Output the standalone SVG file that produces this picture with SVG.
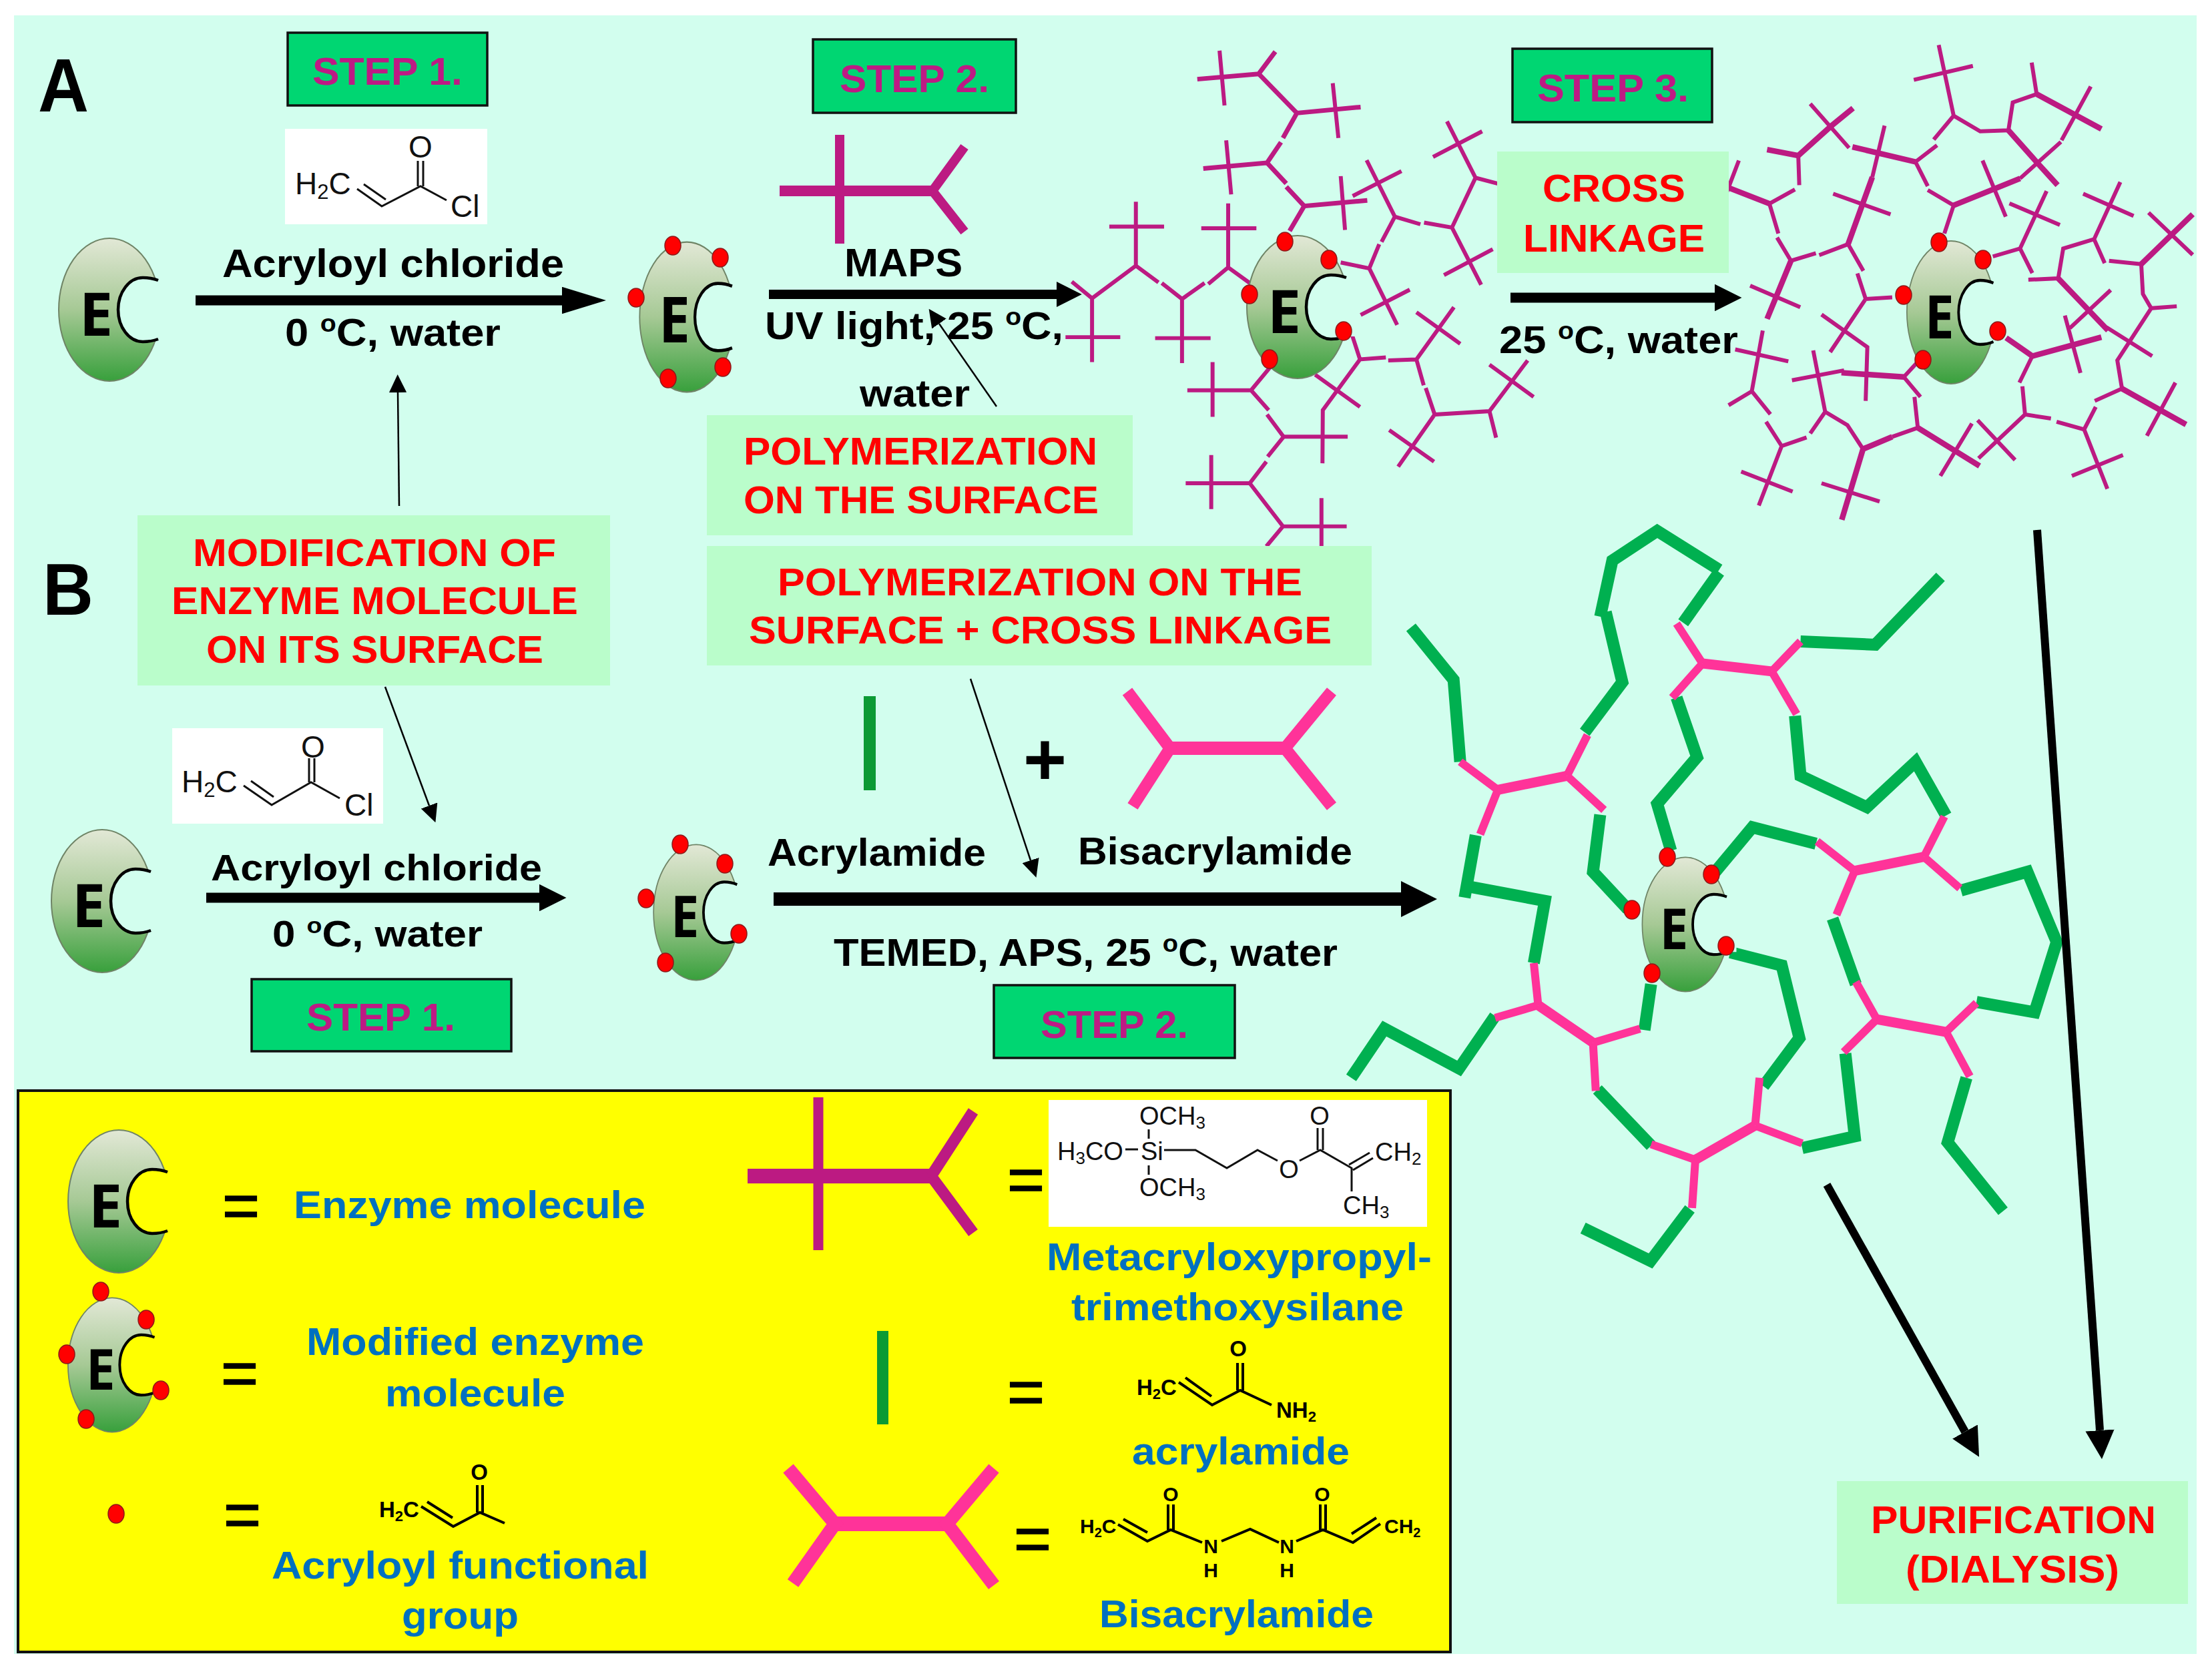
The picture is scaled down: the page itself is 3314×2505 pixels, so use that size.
<svg xmlns="http://www.w3.org/2000/svg" xmlns:xlink="http://www.w3.org/1999/xlink" width="3314" height="2505" viewBox="0 0 3314 2505">
<style>
text{font-family:"Liberation Sans",Arial,sans-serif}
.k{font-weight:bold;fill:#000}
.r{font-weight:bold;fill:#f00;font-size:58px}
.s{font-weight:bold;fill:#BE1A84;font-size:58px}
.u{font-weight:bold;fill:#0070C0;font-size:58px}
.eq{fill:#000;stroke:#000;stroke-width:1.5;font-size:96px;text-anchor:middle}
.E{font-family:"Open Sans","Liberation Sans",sans-serif;font-weight:bold;font-size:90px;text-anchor:middle;fill:#000}
.step{fill:#00D672;stroke:#111;stroke-width:3.5}
.lab{fill:#BAFDCB}
.dot{fill:#f00;stroke:#8a1a1a;stroke-width:1.5}
.mag{fill:none;stroke:#BC1A82}
.grn{fill:none;stroke:#00B050;stroke-width:18;stroke-linejoin:miter;vector-effect:non-scaling-stroke}
.pnk{fill:none;stroke:#FF3399;stroke-width:12;vector-effect:non-scaling-stroke}
.pnk.t{stroke-width:15}
.b{fill:none;stroke:#111;stroke-width:3}
.bb{fill:none;stroke:#000;stroke-width:4}
.c{fill:#111;font-size:38px}
.cb{fill:#000;font-weight:bold;font-size:33px}
.ar{fill:none;stroke:#000}
.bite{fill:currentColor}
.arc{fill:none;stroke:#000;stroke-width:4.5}
.onbg{color:#D2FEEE}
.onye{color:#FFFF00}
</style>
<defs>
<linearGradient id="enzGrad" x1="0" y1="0" x2="0" y2="1">
<stop offset="0" stop-color="#E2E8D6"/><stop offset="0.5" stop-color="#A6C995"/><stop offset="1" stop-color="#38A03C"/>
</linearGradient>
<g id="enzBody">
<ellipse cx="0" cy="0" rx="76" ry="107" fill="url(#enzGrad)" stroke="#6F8466" stroke-width="2"/>
<path class="bite" d="M73,-44C65,-47 58,-48 50,-48A37,48 0 0 0 50,48C58,48 65,47 73,44L90,44L90,-44Z"/>
<path class="arc" d="M73,-44C65,-47 58,-48 50,-48A37,48 0 0 0 50,48C58,48 65,47 73,44"/>
</g>
<marker id="headThin" viewBox="0 0 10 10" refX="0" refY="5" markerWidth="10.8" markerHeight="10.5" orient="auto" markerUnits="strokeWidth" preserveAspectRatio="none"><path d="M0,0L10,5L0,10Z" fill="#000"/></marker>
<marker id="headMid" viewBox="0 0 10 10" refX="0" refY="5" markerWidth="2.7" markerHeight="2.7" orient="auto" markerUnits="strokeWidth" preserveAspectRatio="none"><path d="M0,0L10,5L0,10Z" fill="#000"/></marker>
<marker id="headLong" viewBox="0 0 10 10" refX="0" refY="5" markerWidth="4.4" markerHeight="2.7" orient="auto" markerUnits="strokeWidth" preserveAspectRatio="none"><path d="M0,0L10,5L0,10Z" fill="#000"/></marker>
<marker id="headBig" viewBox="0 0 10 10" refX="0" refY="5" markerWidth="3.6" markerHeight="3.6" orient="auto" markerUnits="strokeWidth" preserveAspectRatio="none"><path d="M0,0L10,5L0,10Z" fill="#000"/></marker>
</defs>

<rect width="3314" height="2505" fill="#fff"/>
<rect id="panel" x="21" y="23" width="3270" height="2455" fill="#D2FEEE"/>

<text id="label-A" class="k" x="57" y="167" font-size="114" textLength="76" lengthAdjust="spacingAndGlyphs">A</text>
<text id="label-B" class="k" x="64" y="921" font-size="110" textLength="76" lengthAdjust="spacingAndGlyphs">B</text>

<g id="magenta-polymer-a" class="mag" transform="translate(1560,50) scale(.4974)" style="stroke-width:12">
<path d="M470,138L655,122M655,122L705,55M655,122L770,240M770,240L962,222M770,240L728,315M722,328L680,390L488,407M680,390L738,452M738,462L792,520L982,503M792,520L748,595" style="stroke-width:14"/>
<path d="M537,52L552,217M878,150L895,315M557,322L572,485M902,430L915,592"/>
<path d="M92,748L153,798L285,700M153,798L153,990M73,915L238,915M285,700L285,507M205,582L370,582M285,700L353,750M363,752L424,800L492,752M503,755L563,705M424,800L424,993M343,918L510,918M563,705L563,512M482,587L648,587M563,705L632,755"/>
<path d="M902,690L988,708L1018,635M1025,628L1065,552M988,708L1072,878M962,848L1110,772M1065,552L980,382M938,490L1085,415M1065,552L1142,575M1153,570L1237,585L1308,435L1385,455M1308,435L1222,265M1180,372L1328,295M1237,585L1325,757M1213,728L1360,650"/>
<path d="M935,905L960,982L1038,976M1045,985L1130,982M960,982L848,1135L847,1295M825,1028L960,1125M730,1215L923,1215M1130,982L1243,825M1130,840L1262,935M1130,982L1152,1060M1158,1068L1185,1148L1350,1138L1465,985M1350,998L1483,1095M1350,1138L1370,1218M1185,1148L1075,1305M1048,1195L1183,1290"/>
<path d="M690,1005L632,1075L440,1075M516,990L516,1155M632,1075L685,1135M680,1148L730,1215L682,1275M678,1290L628,1355L435,1355M512,1270L512,1433M628,1355L728,1485L920,1485M844,1400L844,1565M728,1485L678,1545"/>
</g>

<g id="magenta-polymer-b" class="mag" transform="translate(2534,50) scale(.4974)" style="stroke-width:12">
<path style="stroke-width:17" d="M30,433L235,513M472,635L545,433M300,685L228,860M452,1022L640,1035M605,1215L517,1252M517,1252L453,1465M682,1188L868,1303M228,350L322,368M322,368L420,280L487,225M485,342L675,387M790,518L990,437M1042,390L955,292M1042,390L1103,457M1040,183L1235,288M1355,695L1510,545M1297,1070L1490,1178M1105,738L1255,895M948,917L1027,972L1235,915"/>
<path d="M143,383L78,553M235,513L312,470M235,513L262,603M258,615L300,685L375,662M385,668L472,635M177,760L328,825M427,483L600,545M472,635L518,715M500,723L525,800L605,795M525,800L418,960M392,847L530,945L525,1107M303,1045L460,1015M640,1035L695,975M640,1035L690,1095M672,1095L682,1188L605,1215M517,1252L470,1180L403,1140L358,1205M403,1140L367,955M392,1355L567,1410M845,1175L750,1333"/>
<path d="M215,895L182,1078L112,1120M132,952L292,988M182,1078L238,1147M225,1170L272,1243L347,1217M272,1243L203,1422M150,1320L305,1380"/>
<path d="M322,368L325,457M358,212L475,345M582,278L545,433M675,387L740,337M675,387L712,460M712,472L790,518L762,603M877,383L947,552M990,437L1113,327M955,292L870,295L790,248L730,320M790,248L745,35M670,140L848,98M955,292L968,208L1040,183L1025,88M1203,160L1115,322"/>
<path d="M908,672L990,648L1070,475M958,512L1110,577M990,648L1027,722M1015,742L1105,738L1120,648L1213,620L1292,448M1180,483L1332,550M1213,620L1245,692M1258,685L1355,695L1360,785L1385,828L1462,822M1377,540L1510,667M1385,828L1283,985L1297,1070L1215,1107M1250,885L1388,972M1458,1052L1372,1212M1263,773L1140,888M1125,850L1172,1023M1027,972L988,1052M997,1063L1005,1148L1083,1160M1100,1170L1183,1193L1218,1125M1183,1193L1253,1372M1146,1333L1300,1270M1005,1148L865,1280M862,1165L975,1285"/>
</g>

<g id="green-polymer" transform="translate(1900,780) scale(.829,.7015)">
<path class="grn" d="M258,228L335,340L347,515M572,452L640,345L610,195M600,205L622,85L703,22L815,105M815,110L750,218M962,258L1097,265L1215,120M738,378L775,505L703,605L728,705M952,417L962,545L1082,612L1170,515L1225,630M808,750L875,655L990,690M1252,790L1372,750L1425,900L1385,1050L1280,1028M1020,850L1062,990M1262,1190L1228,1328L1328,1475M1043,1138L1060,1315L965,1340M895,1208L960,1105L928,950L835,922M692,1335L595,1215M680,1088L692,990M410,1058L345,1170L210,1085L150,1190M480,945L500,812L355,780M355,805L375,672M600,628L587,750L650,830M762,1470L691,1581L569,1511"/>
<path class="pnk" d="M347,515L415,575M540,545L577,458M540,545L607,618M415,575L383,670M738,220L785,305M785,305L730,378M910,322L962,258M910,322L955,413M1222,632L1185,718M1185,718L1250,785M1060,748L992,685M1060,748L1027,842M1280,1030L1225,1092M1100,1065L1062,985M1100,1065L1040,1135M1225,1092L1268,1187M965,1330L880,1292M772,1365L692,1332M772,1365L766,1468M880,1292L888,1190M592,1218L587,1115M587,1115L672,1085M488,1035L480,945M488,1035L410,1062"/>
<path class="pnk t" d="M415,575L540,545M785,305L910,322M1185,718L1060,748M1225,1092L1100,1065M880,1292L772,1365M587,1115L488,1035"/>
</g>

<g id="connectors">
<line class="ar" x1="293" y1="450" x2="842" y2="450" stroke-width="15" marker-end="url(#headLong)"/>
<line class="ar" x1="1152" y1="441" x2="1583" y2="441" stroke-width="14" marker-end="url(#headMid)"/>
<line class="ar" x1="2263" y1="446" x2="2569" y2="446" stroke-width="15" marker-end="url(#headMid)"/>
<line class="ar" x1="309" y1="1345" x2="808" y2="1345" stroke-width="15" marker-end="url(#headMid)"/>
<line class="ar" x1="1159" y1="1347" x2="2099" y2="1347" stroke-width="20" marker-end="url(#headMid)"/>
<line class="ar" x1="598" y1="758" x2="596" y2="588" stroke-width="2.5" marker-end="url(#headThin)"/>
<line class="ar" x1="1493" y1="609" x2="1407" y2="485" stroke-width="2.5" marker-end="url(#headThin)"/>
<line class="ar" x1="1454" y1="1017" x2="1544" y2="1289" stroke-width="2.5" marker-end="url(#headThin)"/>
<line class="ar" x1="577" y1="1029" x2="643" y2="1207" stroke-width="2.5" marker-end="url(#headThin)"/>
<line class="ar" x1="3052" y1="794" x2="3146" y2="2143" stroke-width="12" marker-end="url(#headBig)"/>
<line class="ar" x1="2737" y1="1775" x2="2944" y2="2145" stroke-width="12" marker-end="url(#headBig)"/>
</g>

<g id="step-a1"><rect class="step" x="431" y="49" width="299" height="109"/><text class="s" x="468" y="127" textLength="225" lengthAdjust="spacingAndGlyphs">STEP 1.</text></g>
<g id="step-a2"><rect class="step" x="1218" y="59" width="304" height="110"/><text class="s" x="1258" y="138" textLength="224" lengthAdjust="spacingAndGlyphs">STEP 2.</text></g>
<g id="step-a3"><rect class="step" x="2266" y="73" width="299" height="110"/><text class="s" x="2303" y="152" textLength="227" lengthAdjust="spacingAndGlyphs">STEP 3.</text></g>
<g id="step-b1"><rect class="step" x="377" y="1467" width="389" height="108"/><text class="s" x="459" y="1544" textLength="223" lengthAdjust="spacingAndGlyphs">STEP 1.</text></g>
<g id="step-b2"><rect class="step" x="1489" y="1476" width="361" height="109"/><text class="s" x="1559" y="1555" textLength="221" lengthAdjust="spacingAndGlyphs">STEP 2.</text></g>

<g id="label-modification"><rect class="lab" x="206" y="772" width="708" height="255"/>
<text class="r" x="289" y="848" textLength="544" lengthAdjust="spacingAndGlyphs">MODIFICATION OF</text>
<text class="r" x="257" y="920" textLength="609" lengthAdjust="spacingAndGlyphs">ENZYME MOLECULE</text>
<text class="r" x="309" y="993" textLength="505" lengthAdjust="spacingAndGlyphs">ON ITS SURFACE</text></g>
<g id="label-polymerization"><rect class="lab" x="1059" y="622" width="638" height="180"/>
<text class="r" x="1114" y="696" textLength="530" lengthAdjust="spacingAndGlyphs">POLYMERIZATION</text>
<text class="r" x="1114" y="769" textLength="532" lengthAdjust="spacingAndGlyphs">ON THE SURFACE</text></g>
<g id="label-polymerization-cross"><rect class="lab" x="1059" y="818" width="996" height="179"/>
<text class="r" x="1165" y="892" textLength="786" lengthAdjust="spacingAndGlyphs">POLYMERIZATION ON THE</text>
<text class="r" x="1122" y="964" textLength="873" lengthAdjust="spacingAndGlyphs">SURFACE + CROSS LINKAGE</text></g>
<g id="label-cross"><rect class="lab" x="2243" y="227" width="347" height="182"/>
<text class="r" x="2311" y="302" textLength="214" lengthAdjust="spacingAndGlyphs">CROSS</text>
<text class="r" x="2282" y="377" textLength="272" lengthAdjust="spacingAndGlyphs">LINKAGE</text></g>
<g id="label-purification"><rect class="lab" x="2752" y="2219" width="526" height="184"/>
<text class="r" x="2803" y="2297" textLength="427" lengthAdjust="spacingAndGlyphs">PURIFICATION</text>
<text class="r" x="2855" y="2371" textLength="320" lengthAdjust="spacingAndGlyphs">(DIALYSIS)</text></g>

<g id="reaction-labels">
<text class="k" font-size="60" x="333" y="415" textLength="512" lengthAdjust="spacingAndGlyphs">Acryloyl chloride</text>
<text class="k" font-size="58" x="427" y="518" textLength="323" lengthAdjust="spacingAndGlyphs">0 <tspan font-size="36" dy="-21">o</tspan><tspan dy="21">C, water</tspan></text>
<text class="k" font-size="60" x="1265" y="414" textLength="177" lengthAdjust="spacingAndGlyphs">MAPS</text>
<text class="k" font-size="58" x="1146" y="508" textLength="447" lengthAdjust="spacingAndGlyphs">UV light, 25 <tspan font-size="36" dy="-21">o</tspan><tspan dy="21">C,</tspan></text>
<text class="k" font-size="58" x="1288" y="609" textLength="165" lengthAdjust="spacingAndGlyphs">water</text>
<text class="k" font-size="58" x="2246" y="529" textLength="358" lengthAdjust="spacingAndGlyphs">25 <tspan font-size="36" dy="-21">o</tspan><tspan dy="21">C, water</tspan></text>
<text class="k" font-size="56" x="316" y="1319" textLength="496" lengthAdjust="spacingAndGlyphs">Acryloyl chloride</text>
<text class="k" font-size="56" x="408" y="1418" textLength="315" lengthAdjust="spacingAndGlyphs">0 <tspan font-size="34" dy="-20">o</tspan><tspan dy="20">C, water</tspan></text>
<text class="k" font-size="58" x="1150" y="1297" textLength="327" lengthAdjust="spacingAndGlyphs">Acrylamide</text>
<text class="k" font-size="58" x="1615" y="1295" textLength="411" lengthAdjust="spacingAndGlyphs">Bisacrylamide</text>
<text class="k" font-size="58" x="1249" y="1447" textLength="755" lengthAdjust="spacingAndGlyphs">TEMED, APS, 25 <tspan font-size="36" dy="-21">o</tspan><tspan dy="21">C, water</tspan></text>
<text class="k" font-size="112" x="1533" y="1176" textLength="65" lengthAdjust="spacingAndGlyphs">+</text>
</g>

<g id="chem-acryloyl-chloride-a"><rect x="427" y="193" width="303" height="143" fill="#fff"/>
<path class="b" d="M535,283L572,309L630,279L669,300M545,276L578,299M626,279V241M634,279V241"/>
<text class="c" style="font-size:46px" x="442" y="291">H<tspan font-size="31" dy="7">2</tspan><tspan dy="-7">C</tspan></text>
<text class="c" style="font-size:46px" x="630" y="236" text-anchor="middle">O</text>
<text class="c" style="font-size:46px" x="675" y="325">Cl</text></g>
<g id="chem-acryloyl-chloride-b"><rect x="258" y="1091" width="316" height="143" fill="#fff"/>
<path class="b" d="M365,1177L407,1206L466,1172L509,1196M376,1170L410,1194M463,1172V1136M471,1172V1136"/>
<text class="c" style="font-size:46px" x="272" y="1187">H<tspan font-size="31" dy="7">2</tspan><tspan dy="-7">C</tspan></text>
<text class="c" style="font-size:46px" x="469" y="1135" text-anchor="middle">O</text>
<text class="c" style="font-size:46px" x="516" y="1222">Cl</text></g>

<g id="monomer-maps" fill="none" stroke="#BC1A82"><path stroke-width="16" d="M1168,286H1397"/><path stroke-width="14" d="M1258,202V365M1397,286L1445,220M1397,286L1445,347"/></g>
<rect id="monomer-acrylamide" x="1294" y="1043" width="18" height="141" fill="#0B9A34"/>
<g id="monomer-bisacrylamide" fill="none" stroke="#FF3399"><path stroke-width="20" d="M1753,1121H1925"/><path stroke-width="18" d="M1689,1036L1753,1121L1697,1208M1995,1036L1925,1121L1995,1208"/></g>

<g id="legend">
<rect x="27" y="1634" width="2146" height="841" fill="#FFFF00" stroke="#111" stroke-width="4"/>
<g id="legend-maps-shape" fill="none" stroke="#BC1A82"><path stroke-width="22" d="M1120,1762H1395"/><path stroke-width="15" d="M1226,1644V1873"/><path stroke-width="17" d="M1395,1762L1458,1665M1395,1762L1458,1847"/></g>
<rect id="legend-acrylamide-shape" x="1314" y="1994" width="17" height="140" fill="#0B9A34"/>
<g id="legend-bisacrylamide-shape" fill="none" stroke="#FF3399"><path stroke-width="22" d="M1251,2283H1419"/><path stroke-width="20" d="M1181,2200L1251,2283L1188,2372M1489,2200L1419,2283L1489,2375"/></g>
<text class="eq" x="361" y="1839">=</text>
<text class="eq" x="359" y="2090">=</text>
<text class="eq" x="363" y="2302">=</text>
<text class="eq" x="1537" y="1800">=</text>
<text class="eq" x="1537" y="2118">=</text>
<text class="eq" x="1547" y="2338">=</text>
<text class="u" x="440" y="1825" textLength="527" lengthAdjust="spacingAndGlyphs">Enzyme molecule</text>
<text class="u" x="459" y="2030" textLength="506" lengthAdjust="spacingAndGlyphs">Modified enzyme</text>
<text class="u" x="577" y="2107" textLength="270" lengthAdjust="spacingAndGlyphs">molecule</text>
<text class="u" x="407" y="2365" textLength="565" lengthAdjust="spacingAndGlyphs">Acryloyl functional</text>
<text class="u" x="602" y="2440" textLength="175" lengthAdjust="spacingAndGlyphs">group</text>
<text class="u" x="1568" y="1903" textLength="577" lengthAdjust="spacingAndGlyphs">Metacryloxypropyl-</text>
<text class="u" x="1605" y="1978" textLength="498" lengthAdjust="spacingAndGlyphs">trimethoxysilane</text>
<text class="u" x="1696" y="2194" textLength="326" lengthAdjust="spacingAndGlyphs">acrylamide</text>
<text class="u" x="1647" y="2438" textLength="411" lengthAdjust="spacingAndGlyphs">Bisacrylamide</text>

<g id="chem-acryloyl"><path class="bb" d="M631,2257L679,2287L719,2266L756,2282M640,2250L678,2274M715,2266V2225M723,2266V2225"/>
<text class="cb" x="568" y="2273">H<tspan font-size="22" dy="6">2</tspan><tspan dy="-6">C</tspan></text>
<text class="cb" x="718" y="2217" text-anchor="middle">O</text></g>

<g id="chem-maps"><rect x="1571" y="1648" width="567" height="190" fill="#fff"/>
<path class="b" d="M1686,1722H1705M1721,1692V1706M1721,1746V1760M1744,1723H1791L1838,1750L1884,1723L1914,1739M1947,1739L1978,1723L2025,1750V1785M1974,1723V1690M1982,1723V1690M2021,1745L2052,1727M2027,1753L2057,1735"/>
<text class="c" x="1707" y="1685">OCH<tspan font-size="26" dy="6">3</tspan></text>
<text class="c" x="1584" y="1738">H<tspan font-size="26" dy="6">3</tspan><tspan dy="-6">CO</tspan></text>
<text class="c" x="1709" y="1738">Si</text>
<text class="c" x="1707" y="1792">OCH<tspan font-size="26" dy="6">3</tspan></text>
<text class="c" x="1931" y="1765" text-anchor="middle">O</text>
<text class="c" x="1977" y="1685" text-anchor="middle">O</text>
<text class="c" x="2060" y="1739">CH<tspan font-size="26" dy="6">2</tspan></text>
<text class="c" x="2012" y="1819">CH<tspan font-size="26" dy="6">3</tspan></text></g>

<g id="chem-acrylamide"><path class="bb" d="M1766,2071L1816,2105L1858,2083L1905,2105M1776,2064L1815,2092M1854,2083V2042M1862,2083V2042"/>
<text class="cb" x="1703" y="2090">H<tspan font-size="22" dy="6">2</tspan><tspan dy="-6">C</tspan></text>
<text class="cb" x="1855" y="2032" text-anchor="middle">O</text>
<text class="cb" x="1912" y="2124">NH<tspan font-size="22" dy="6">2</tspan></text></g>

<g id="chem-bisacrylamide"><path class="bb" d="M1675,2284L1719,2309L1754,2292L1801,2311M1683,2276L1719,2296M1750,2292V2254M1758,2292V2254M1830,2309L1873,2291L1916,2311M1942,2309L1982,2292L2027,2311L2068,2283M2025,2298L2062,2274M1978,2292V2254M1986,2292V2254"/>
<text class="cb" style="font-size:30px" x="1618" y="2297">H<tspan font-size="20" dy="6">2</tspan><tspan dy="-6">C</tspan></text>
<text class="cb" style="font-size:30px" x="1754" y="2249" text-anchor="middle">O</text>
<text class="cb" style="font-size:30px" x="1814" y="2327" text-anchor="middle">N</text>
<text class="cb" style="font-size:30px" x="1814" y="2363" text-anchor="middle">H</text>
<text class="cb" style="font-size:30px" x="1928" y="2327" text-anchor="middle">N</text>
<text class="cb" style="font-size:30px" x="1928" y="2363" text-anchor="middle">H</text>
<text class="cb" style="font-size:30px" x="1981" y="2249" text-anchor="middle">O</text>
<text class="cb" style="font-size:30px" x="2074" y="2297">CH<tspan font-size="20" dy="6">2</tspan></text></g>

<g id="enzyme-legend-1" class="onye" transform="translate(178,1800)"><use xlink:href="#enzBody" href="#enzBody"/><text class="E" x="-20" y="39">E</text></g>
<g id="enzyme-legend-2" class="onye"><g transform="translate(168,2045) scale(.87,.94)"><use xlink:href="#enzBody" href="#enzBody"/><text class="E" x="-20" y="39">E</text></g>
<ellipse class="dot" cx="151" cy="1935" rx="12" ry="14"/><ellipse class="dot" cx="219" cy="1977" rx="12" ry="14"/><ellipse class="dot" cx="100" cy="2029" rx="12" ry="14"/><ellipse class="dot" cx="241" cy="2083" rx="12" ry="14"/><ellipse class="dot" cx="129" cy="2126" rx="12" ry="14"/></g>
<ellipse id="legend-dot" class="dot" cx="174" cy="2268" rx="12" ry="14"/>
</g>

<g id="enzyme-a1" class="onbg" transform="translate(164,464)"><use xlink:href="#enzBody" href="#enzBody"/><text class="E" x="-20" y="39">E</text></g>
<g id="enzyme-a2" class="onbg"><g transform="translate(1029,475) scale(.93,1.05)"><use xlink:href="#enzBody" href="#enzBody"/><text class="E" x="-20" y="36">E</text></g>
<ellipse class="dot" cx="1008" cy="368" rx="12" ry="14"/><ellipse class="dot" cx="1079" cy="386" rx="12" ry="14"/><ellipse class="dot" cx="953" cy="446" rx="12" ry="14"/><ellipse class="dot" cx="1083" cy="550" rx="12" ry="14"/><ellipse class="dot" cx="1001" cy="567" rx="12" ry="14"/></g>
<g id="enzyme-a3" class="onbg"><g transform="translate(1944,460)"><use xlink:href="#enzBody" href="#enzBody"/><text class="E" x="-20" y="39">E</text></g>
<ellipse class="dot" cx="1925" cy="362" rx="12" ry="14"/><ellipse class="dot" cx="1991" cy="389" rx="12" ry="14"/><ellipse class="dot" cx="1872" cy="441" rx="12" ry="14"/><ellipse class="dot" cx="2013" cy="496" rx="12" ry="14"/><ellipse class="dot" cx="1902" cy="538" rx="12" ry="14"/></g>
<g id="enzyme-a4" class="onbg"><g transform="translate(2923,468) scale(.87,1)"><use xlink:href="#enzBody" href="#enzBody"/><text class="E" x="-20" y="39">E</text></g>
<ellipse class="dot" cx="2905" cy="363" rx="12" ry="14"/><ellipse class="dot" cx="2971" cy="389" rx="12" ry="14"/><ellipse class="dot" cx="2852" cy="442" rx="12" ry="14"/><ellipse class="dot" cx="2993" cy="496" rx="12" ry="14"/><ellipse class="dot" cx="2881" cy="539" rx="12" ry="14"/></g>
<g id="enzyme-b1" class="onbg" transform="translate(153,1350)"><use xlink:href="#enzBody" href="#enzBody"/><text class="E" x="-20" y="39">E</text></g>
<g id="enzyme-b2" class="onbg"><g transform="translate(1043,1367) scale(.84,.95)"><use xlink:href="#enzBody" href="#enzBody"/><text class="E" x="-20" y="39">E</text></g>
<ellipse class="dot" cx="1019" cy="1265" rx="12" ry="14"/><ellipse class="dot" cx="1086" cy="1294" rx="12" ry="14"/><ellipse class="dot" cx="968" cy="1346" rx="12" ry="14"/><ellipse class="dot" cx="997" cy="1442" rx="12" ry="14"/><ellipse class="dot" cx="1107" cy="1399" rx="12" ry="14"/></g>
<g id="enzyme-b3" class="onbg"><g transform="translate(2525,1385) scale(.85,.94)"><use xlink:href="#enzBody" href="#enzBody"/><text class="E" x="-20" y="39">E</text></g>
<ellipse class="dot" cx="2498" cy="1284" rx="12" ry="14"/><ellipse class="dot" cx="2564" cy="1310" rx="12" ry="14"/><ellipse class="dot" cx="2445" cy="1363" rx="12" ry="14"/><ellipse class="dot" cx="2586" cy="1417" rx="12" ry="14"/><ellipse class="dot" cx="2475" cy="1458" rx="12" ry="14"/></g>
</svg>
